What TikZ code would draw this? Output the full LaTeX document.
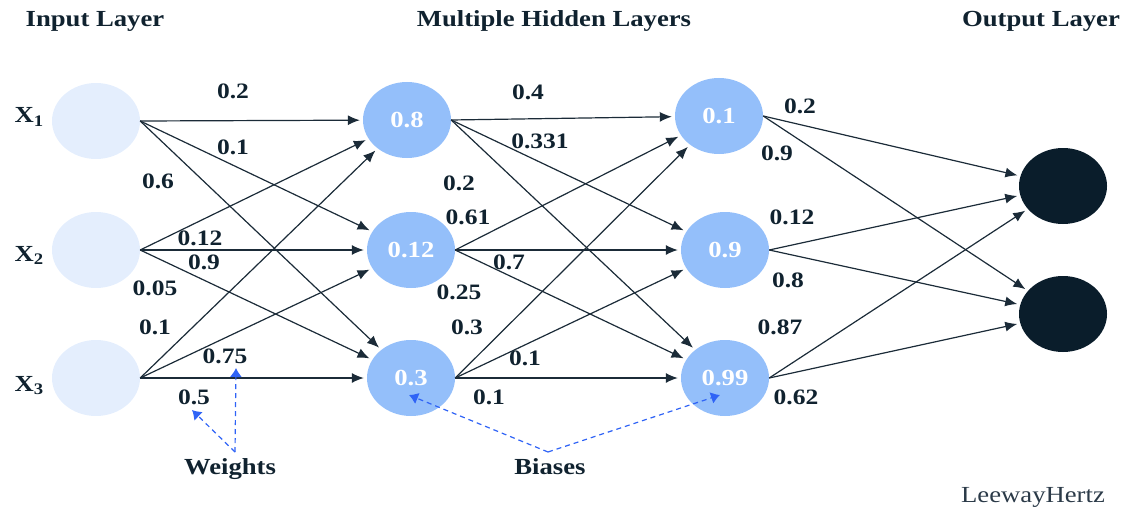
\documentclass[tikz,border=0pt]{standalone}
\usepackage{fontspec}
\setmainfont{Liberation Serif}[FakeStretch=1.16]
\usetikzlibrary{shapes.geometric,arrows.meta}

\definecolor{nninfill}{HTML}{E4EEFD}
\definecolor{nnhidfill}{HTML}{94BFFA}
\definecolor{nnoutfill}{HTML}{0A1D2B}
\definecolor{nnink}{HTML}{10222F}
\definecolor{nnline}{HTML}{1B2B38}
\definecolor{nnhint}{HTML}{2F63F6}
\definecolor{nnbrand}{HTML}{2B3A48}

\tikzset{
    nn unit/.style={ellipse, minimum width=88pt, minimum height=76pt,
                    inner sep=0pt},
    nn in/.style={nn unit, fill=nninfill},
    nn hid/.style={nn unit, fill=nnhidfill, text=white,
                   font=\fontsize{23}{25}\selectfont\bfseries},
    nn out/.style={nn unit, fill=nnoutfill},
    nn head/.style={anchor=base, text=nnink,
                    font=\fontsize{23}{25}\selectfont\bfseries},
    nn weight/.style={inner sep=0pt, text=nnink,
                      font=\fontsize{22}{24}\selectfont\bfseries},
    nn link/.style={-{Latex[length=12pt,width=10pt]}, line width=1.2pt,
                    draw=nnline, shorten >=3pt},
    nn hint/.style={-{Latex[length=9pt,width=12pt]}, line width=1.2pt,
                    draw=nnhint, dash pattern=on 5pt off 4pt},
}

\begin{document}
\begin{tikzpicture}[x=1pt, y=-1pt]
    \useasboundingbox (0,0) rectangle (1129,508);
    % Layer titles
    \node[nn head] (tin)  at (95,27)   {Input Layer};
    \node[nn head] (thid) at (554,27)  {Multiple Hidden Layers};
    \node[nn head] (tout) at (1041,27) {Output Layer};
    % Input layer
    \node[nn in] (i1) at (96,121) {};
    \node[nn in] (i2) at (96,250) {};
    \node[nn in] (i3) at (96,378) {};
    \node[nn head, anchor=base west] (x1) at (11,123) {X\textsubscript{1}};
    \node[nn head, anchor=base west] (x2) at (11,261) {X\textsubscript{2}};
    \node[nn head, anchor=base west] (x3) at (11,391) {X\textsubscript{3}};
    % First hidden layer
    \node[nn hid] (h11) at (407,120) {0.8};
    \node[nn hid] (h12) at (411,250) {0.12};
    \node[nn hid] (h13) at (411,378) {0.3};
    % Second hidden layer
    \node[nn hid] (h21) at (719,116) {0.1};
    \node[nn hid] (h22) at (725,250) {0.9};
    \node[nn hid] (h23) at (725,378) {0.99};
    % Output layer
    \node[nn out] (o1) at (1063,186) {};
    \node[nn out] (o2) at (1063,314) {};
    % Input -> first hidden
    \draw[nn link] (i1.east) -- (h11);
    \draw[nn link] (i1.east) -- (h12);
    \draw[nn link] (i1.east) -- (h13);
    \draw[nn link] (i2.east) -- (h11);
    \draw[nn link] (i2.east) -- (h12);
    \draw[nn link] (i2.east) -- (h13);
    \draw[nn link] (i3.east) -- (h11);
    \draw[nn link] (i3.east) -- (h12);
    \draw[nn link] (i3.east) -- (h13);
    % First hidden -> second hidden
    \draw[nn link] (h11.east) -- (h21);
    \draw[nn link] (h11.east) -- (h22);
    \draw[nn link] (h11.east) -- (h23);
    \draw[nn link] (h12.east) -- (h21);
    \draw[nn link] (h12.east) -- (h22);
    \draw[nn link] (h12.east) -- (h23);
    \draw[nn link] (h13.east) -- (h21);
    \draw[nn link] (h13.east) -- (h22);
    \draw[nn link] (h13.east) -- (h23);
    % Second hidden -> output
    \draw[nn link] (h21.east) -- (o1);
    \draw[nn link] (h21.east) -- (o2);
    \draw[nn link] (h22.east) -- (o1);
    \draw[nn link] (h22.east) -- (o2);
    \draw[nn link] (h23.east) -- (o1);
    \draw[nn link] (h23.east) -- (o2);
    % Weights, first block
    \node[nn weight] (w1a) at (233,91)  {0.2};
    \node[nn weight] (w1b) at (233,147) {0.1};
    \node[nn weight] (w1c) at (158,181) {0.6};
    \node[nn weight] (w1d) at (200,238) {0.12};
    \node[nn weight] (w1e) at (204,262) {0.9};
    \node[nn weight] (w1f) at (155,288) {0.05};
    \node[nn weight] (w1g) at (155,327) {0.1};
    \node[nn weight] (w1h) at (225,356) {0.75};
    \node[nn weight] (w1i) at (194,397) {0.5};
    % Weights, second block
    \node[nn weight] (w2a) at (528,92)  {0.4};
    \node[nn weight] (w2b) at (540,141) {0.331};
    \node[nn weight] (w2c) at (459,183) {0.2};
    \node[nn weight] (w2d) at (468,217) {0.61};
    \node[nn weight] (w2e) at (509,262) {0.7};
    \node[nn weight] (w2f) at (459,292) {0.25};
    \node[nn weight] (w2g) at (467,327) {0.3};
    \node[nn weight] (w2h) at (525,358) {0.1};
    \node[nn weight] (w2i) at (489,397) {0.1};
    % Weights, third block
    \node[nn weight] (w3a) at (800,106) {0.2};
    \node[nn weight] (w3b) at (777,153) {0.9};
    \node[nn weight] (w3c) at (792,217) {0.12};
    \node[nn weight] (w3d) at (788,280) {0.8};
    \node[nn weight] (w3e) at (780,327) {0.87};
    \node[nn weight] (w3f) at (796,397) {0.62};
    % Callouts
    \node[nn head] (wts) at (230,474) {Weights};
    \node[nn head] (bis) at (550,474) {Biases};
    \coordinate (wfork) at (235,452);
    \coordinate (bfork) at (548,452);
    \coordinate (wtip1) at (236,368);
    \coordinate (wtip2) at (192,410);
    \coordinate (btip1) at (409,395);
    \coordinate (btip2) at (720,395);
    \draw[nn hint] (wfork) -- (wtip1);
    \draw[nn hint] (wfork) -- (wtip2);
    \draw[nn hint] (bfork) -- (btip1);
    \draw[nn hint] (bfork) -- (btip2);
    % Brand
    \node[anchor=base, text=nnbrand, font=\fontsize{23}{25}\selectfont]
          (brand) at (1033,502) {LeewayHertz};
\end{tikzpicture}
\end{document}
